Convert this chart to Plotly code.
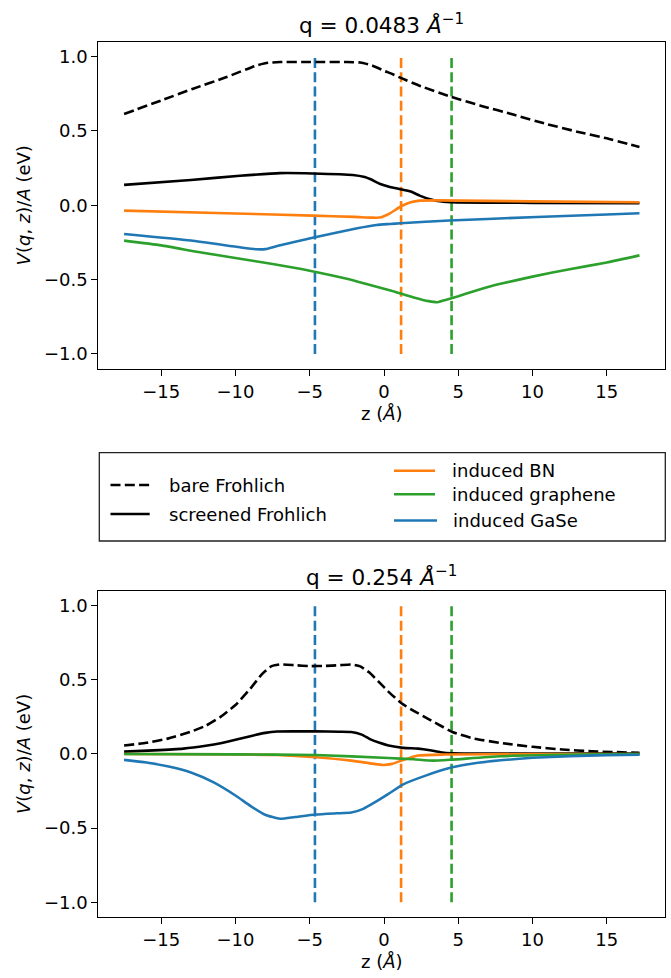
import plotly.graph_objects as go

# ---------------- data ----------------
# panel 1 : q = 0.0483 1/Angstrom
bare_top_z = [-17.5, -15, -12.9, -10.6, -8.6, -7.8, -7, -5.5, -4, -2.5, -1.6, -0.8, 0, 0.5, 1.1, 2.5, 4.5, 6.5, 8.7, 11, 13, 15, 17.2]
bare_top_v = [0.614, 0.705, 0.782, 0.862, 0.94, 0.958, 0.963, 0.963, 0.963, 0.963, 0.96, 0.94, 0.905, 0.885, 0.858, 0.8, 0.73, 0.67, 0.61, 0.545, 0.495, 0.45, 0.392]

scr_top_z = [-17.5, -13, -9.7, -7, -4.8, -2.1, -1.3, -0.9, -0.3, 0.4, 1.1, 1.8, 2.4, 3.1, 3.6, 4.5, 10, 17.2]
scr_top_v = [0.137, 0.17, 0.198, 0.216, 0.214, 0.204, 0.19, 0.175, 0.145, 0.123, 0.108, 0.092, 0.065, 0.04, 0.028, 0.02, 0.016, 0.013]

bn_top_z = [-17.5, -10, -4.8, -2, -0.9, -0.3, 0.4, 1.1, 1.8, 2.4, 3.5, 10, 17.2]
bn_top_v = [-0.036, -0.055, -0.07, -0.078, -0.083, -0.083, -0.054, -0.01, 0.02, 0.031, 0.033, 0.026, 0.02]

gr_top_z = [-17.5, -15, -12.5, -10, -7.5, -5, -2.5, -1, 0.5, 2, 3, 3.6, 4.2, 5, 6, 7, 8, 10, 12.5, 15, 17.2]
gr_top_v = [-0.238, -0.27, -0.315, -0.355, -0.395, -0.44, -0.495, -0.535, -0.575, -0.62, -0.645, -0.652, -0.635, -0.612, -0.58, -0.55, -0.525, -0.48, -0.43, -0.385, -0.337]

gase_top_z = [-17.5, -13, -9.7, -8.6, -8, -7.2, -4.8, -1.8, -0.5, 0.4, 1.1, 4.4, 10.3, 15, 17.2]
gase_top_v = [-0.193, -0.237, -0.283, -0.296, -0.295, -0.274, -0.218, -0.155, -0.133, -0.126, -0.121, -0.103, -0.079, -0.062, -0.054]

# panel 2 : q = 0.254 1/Angstrom
bare_bot_z = [-17.5, -16, -14.5, -13, -12, -11, -10, -9, -8.2, -7.6, -7, -6, -5, -4, -3, -2.2, -1.6, -1, -0.3, 0.4, 1.2, 2, 3, 4, 4.6, 6, 8, 10, 12, 14, 17.2]
bare_bot_v = [0.057, 0.075, 0.105, 0.15, 0.19, 0.25, 0.33, 0.44, 0.54, 0.59, 0.603, 0.598, 0.592, 0.593, 0.598, 0.603, 0.59, 0.55, 0.48, 0.41, 0.34, 0.29, 0.235, 0.18, 0.148, 0.105, 0.072, 0.048, 0.03, 0.018, 0.007]

scr_bot_z = [-17.5, -15.5, -13.5, -12, -11, -10, -9, -8, -7.2, -6, -4.6, -3, -2.2, -1.5, -0.95, -0.3, 0.3, 1.3, 2.3, 3.1, 3.8, 4.6, 10, 17.2]
scr_bot_v = [0.016, 0.024, 0.036, 0.055, 0.072, 0.095, 0.12, 0.142, 0.151, 0.152, 0.152, 0.15, 0.148, 0.13, 0.10, 0.075, 0.057, 0.041, 0.036, 0.025, 0.012, 0.005, 0.003, 0.002]

bn_bot_z = [-17.5, -10, -7.2, -4.6, -2.2, -0.8, -0.07, 0.55, 1.3, 2.3, 4.1, 10, 17.2]
bn_bot_v = [0.0, -0.003, -0.007, -0.022, -0.045, -0.065, -0.074, -0.067, -0.04, -0.011, -0.004, -0.001, 0.0]

gr_bot_z = [-17.5, -10, -4.6, 0.3, 2, 3.3, 4.6, 7.84, 13.2, 17.2]
gr_bot_v = [0.0, -0.003, -0.007, -0.027, -0.036, -0.045, -0.038, -0.016, -0.004, -0.001]

gase_bot_z = [-17.5, -16, -14.5, -13, -11.5, -10, -9, -8, -7, -6, -4.6, -3.2, -2.2, -1.4, -0.6, 0.3, 1.3, 2.8, 4.58, 6, 7.84, 10, 12.5, 15, 17.2]
gase_bot_v = [-0.04, -0.058, -0.085, -0.125, -0.19, -0.28, -0.35, -0.41, -0.437, -0.425, -0.408, -0.4, -0.395, -0.37, -0.325, -0.269, -0.205, -0.146, -0.09, -0.064, -0.043, -0.026, -0.015, -0.008, -0.005]

# layer positions (vertical dashed markers): GaSe, BN, graphene
layer_z = [-4.65, 1.15, 4.55]
layer_ymin = -1.0
layer_ymax = 1.0

titles = ["q = 0.0483 <i>Å</i><sup>−1</sup>", "q = 0.254 <i>Å</i><sup>−1</sup>"]
legend_labels = ["bare Frohlich", "screened Frohlich", "induced BN", "induced graphene", "induced GaSe"]

x_tickvals = [-15, -10, -5, 0, 5, 10, 15]
x_ticktext = ["−15", "−10", "−5", "0", "5", "10", "15"]
y_tickvals = [-1.0, -0.5, 0.0, 0.5, 1.0]
y_ticktext = ["−1.0", "−0.5", "0.0", "0.5", "1.0"]

# ---------------- style ----------------
W, H = 671, 978
BLUE, ORANGE, GREEN, BLACK = "#1f77b4", "#ff7f0e", "#2ca02c", "#000000"
FONT = "DejaVu Sans"
LW = 2.6
DASH = "10px,4.3px"
SM = 0.5

def px_x(p):
    return p / W

def px_y(p):
    return 1 - p / H

fig = go.Figure()

panels = [
    ("x", "y", bare_top_z, bare_top_v, scr_top_z, scr_top_v, bn_top_z, bn_top_v, gr_top_z, gr_top_v, gase_top_z, gase_top_v),
    ("x2", "y2", bare_bot_z, bare_bot_v, scr_bot_z, scr_bot_v, bn_bot_z, bn_bot_v, gr_bot_z, gr_bot_v, gase_bot_z, gase_bot_v),
]
layer_colors = [BLUE, ORANGE, GREEN]

for (xa, ya, bz, bv, sz, sv, nz, nv, gz, gv, az, av) in panels:
    for lz, lc in zip(layer_z, layer_colors):
        fig.add_trace(go.Scatter(x=[lz, lz], y=[layer_ymin, layer_ymax], mode="lines",
                                 line=dict(color=lc, width=LW, dash=DASH),
                                 xaxis=xa, yaxis=ya, showlegend=False, hoverinfo="skip"))
    fig.add_trace(go.Scatter(x=bz, y=bv, mode="lines", line=dict(color=BLACK, width=LW, dash=DASH, shape="spline", smoothing=SM),
                             xaxis=xa, yaxis=ya, showlegend=False))
    fig.add_trace(go.Scatter(x=sz, y=sv, mode="lines", line=dict(color=BLACK, width=LW, shape="spline", smoothing=SM),
                             xaxis=xa, yaxis=ya, showlegend=False))
    fig.add_trace(go.Scatter(x=nz, y=nv, mode="lines", line=dict(color=ORANGE, width=LW, shape="spline", smoothing=SM),
                             xaxis=xa, yaxis=ya, showlegend=False))
    fig.add_trace(go.Scatter(x=gz, y=gv, mode="lines", line=dict(color=GREEN, width=LW, shape="spline", smoothing=SM),
                             xaxis=xa, yaxis=ya, showlegend=False))
    fig.add_trace(go.Scatter(x=az, y=av, mode="lines", line=dict(color=BLUE, width=LW, shape="spline", smoothing=SM),
                             xaxis=xa, yaxis=ya, showlegend=False))

xdom = [px_x(98.4), px_x(665.3)]
ydom_top = [px_y(368.8), px_y(41.7)]
ydom_bot = [px_y(917.2), px_y(590.7)]

axis_common = dict(showline=True, mirror=True, linecolor="black", linewidth=1.4,
                   ticks="outside", ticklen=6, tickwidth=1.4, tickcolor="black",
                   showgrid=False, zeroline=False,
                   tickfont=dict(family=FONT, size=18, color="black"))

xlab = dict(text="z (<i>Å</i>)", font=dict(family=FONT, size=18, color="black"), standoff=6)
ylab = dict(text="<i>V</i>(<i>q</i>, <i>z</i>)/<i>A</i> (eV)", font=dict(family=FONT, size=18, color="black"), standoff=8)

fig.update_layout(
    width=W, height=H, margin=dict(l=0, r=0, t=0, b=0),
    paper_bgcolor="white", plot_bgcolor="white",
    font=dict(family=FONT, size=18, color="black"),
    showlegend=False,
    xaxis=dict(domain=xdom, range=[-19.23, 18.94], anchor="y", tickvals=x_tickvals, ticktext=x_ticktext, title=xlab, **axis_common),
    yaxis=dict(domain=ydom_top, range=[-1.1, 1.1], anchor="x", tickvals=y_tickvals, ticktext=y_ticktext, title=ylab, **axis_common),
    xaxis2=dict(domain=xdom, range=[-19.23, 18.94], anchor="y2", tickvals=x_tickvals, ticktext=x_ticktext, title=xlab, **axis_common),
    yaxis2=dict(domain=ydom_bot, range=[-1.1, 1.1], anchor="x2", tickvals=y_tickvals, ticktext=y_ticktext, title=ylab, **axis_common),
)

# titles
cx = (xdom[0] + xdom[1]) / 2
for t, ty in zip(titles, [24.3, 576.0]):
    fig.add_annotation(text=t, x=cx, y=px_y(ty), xref="paper", yref="paper", xanchor="center", yanchor="middle",
                       showarrow=False, font=dict(family=FONT, size=21.6, color="black"))

# legend box (drawn manually to match the two-column layout)
fig.add_shape(type="rect", xref="paper", yref="paper", x0=px_x(99.3), x1=px_x(665.3), y0=px_y(541), y1=px_y(452.7),
              line=dict(color="#222222", width=1.3), fillcolor="white", layer="above")
legend_items = [
    (legend_labels[0], BLACK, DASH, 110.5, 149.7, 166.5, 485.0),
    (legend_labels[1], BLACK, "solid", 110.5, 149.7, 166.5, 514.0),
    (legend_labels[2], ORANGE, "solid", 394.0, 435.0, 450.0, 470.7),
    (legend_labels[3], GREEN, "solid", 394.0, 435.0, 450.0, 494.3),
    (legend_labels[4], BLUE, "solid", 394.0, 437.0, 451.0, 520.5),
]
for lab, col, dsh, hx0, hx1, tx, yy in legend_items:
    fig.add_shape(type="line", xref="paper", yref="paper", x0=px_x(hx0), x1=px_x(hx1), y0=px_y(yy), y1=px_y(yy),
                  line=dict(color=col, width=LW, dash=dsh), layer="above")
    fig.add_annotation(text=lab, x=px_x(tx), y=px_y(yy), xref="paper", yref="paper", xanchor="left", yanchor="middle",
                       showarrow=False, font=dict(family=FONT, size=18, color="black"))

fig.write_html("out.html")
